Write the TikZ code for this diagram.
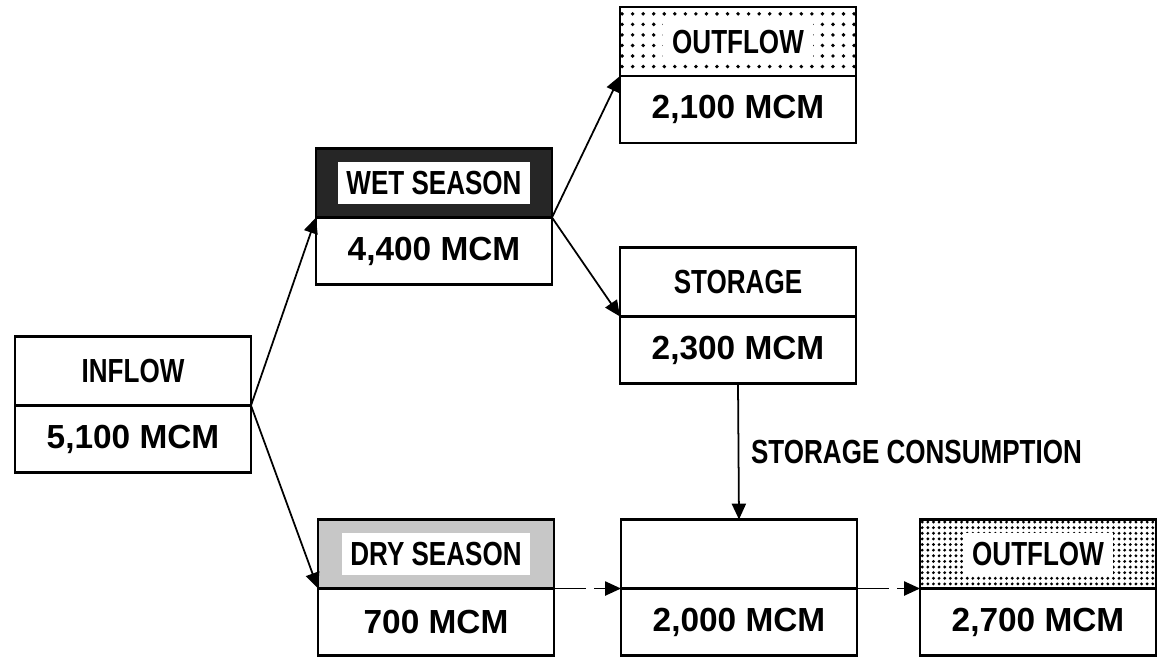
\documentclass[tikz,border=0pt]{standalone}
\usepackage{fontspec}
\usetikzlibrary{positioning,arrows.meta,patterns.meta}
\newfontfamily\wordfont[FakeStretch=0.78]{Liberation Sans}
\newfontfamily\numfont{Liberation Sans}
\definecolor{wetdark}{gray}{0.15}
\definecolor{drylight}{gray}{0.78}

\begin{document}
\begin{tikzpicture}[
    head/.style={draw, thick, minimum width=2.36cm, minimum height=0.69cm, inner sep=0pt, outer sep=0pt,
        font=\wordfont\bfseries\fontsize{9.5}{11}\selectfont},
    qty/.style={draw, thick, minimum width=2.36cm, minimum height=0.67cm, inner sep=0pt, outer sep=0pt,
        font=\numfont\bfseries\fontsize{9.5}{11}\selectfont},
    tag/.style={fill=white, inner xsep=2.5pt, inner ysep=2.5pt, font=\wordfont\bfseries\fontsize{9.5}{11}\selectfont},
    flow/.style={line width=0.5pt, -{Triangle[length=4.5pt,width=4pt]}},
    broken/.style={flow, dash pattern=on 9pt off 2.5pt},
]
    \useasboundingbox (0,0) rectangle (11.57,6.57);

    % inflow
    \node[head] (inflow) at (1.33,2.86) {INFLOW};
    \node[qty, below=0pt of inflow] (inflowq) {5,100 MCM};

    % wet season
    \node[head, fill=wetdark] (wet) at (4.34,4.74) {};
    \node[tag] (wettag) at (wet) {WET SEASON};
    \node[qty, below=0pt of wet] (wetq) {4,400 MCM};

    % outflow (wet)
    \node[head, pattern={Dots[distance=3pt, radius=0.55pt]}] (outtop) at (7.38,6.155) {};
    \node[tag] (outtoptag) at (outtop) {OUTFLOW};
    \node[qty, below=0pt of outtop] (outtopq) {2,100 MCM};

    % storage
    \node[head] (store) at (7.38,3.75) {STORAGE};
    \node[qty, below=0pt of store] (storeq) {2,300 MCM};

    % dry season
    \node[head, fill=drylight] (dry) at (4.36,1.03) {};
    \node[tag] (drytag) at (dry) {DRY SEASON};
    \node[qty, below=0pt of dry] (dryq) {700 MCM};

    % dry season total
    \node[head] (mid) at (7.39,1.03) {};
    \node[qty, below=0pt of mid] (midq) {2,000 MCM};

    % outflow (dry)
    \node[head, pattern={Dots[distance=1.6pt, radius=0.45pt]}] (outbot) at (10.38,1.03) {};
    \node[tag] (outbottag) at (outbot) {OUTFLOW};
    \node[qty, below=0pt of outbot] (outbotq) {2,700 MCM};

    \draw[flow] (inflow.south east) -- (wet.south west);
    \draw[flow] (inflow.south east) -- (dry.south west);
    \draw[flow] (wet.south east) -- (outtop.south west);
    \draw[flow] (wet.south east) -- (store.south west);
    \draw[flow] (storeq.south) -- node[right, font=\wordfont\bfseries\fontsize{9.5}{11}\selectfont] (use) {STORAGE CONSUMPTION} (mid.north);
    \draw[broken] (dry.south east) -- (mid.south west);
    \draw[broken] (mid.south east) -- (outbot.south west);
\end{tikzpicture}
\end{document}
